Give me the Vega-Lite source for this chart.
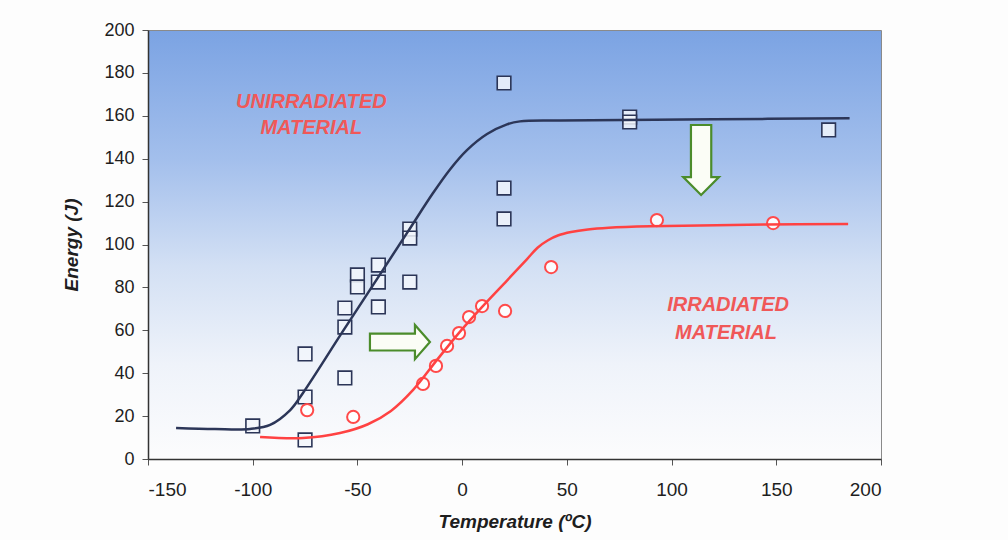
{
  "$schema": "https://vega.github.io/schema/vega-lite/v6.json",
  "autosize": {"type": "none"},
  "padding": {"left": 148, "top": 30, "right": 127, "bottom": 81},
  "width": 733,
  "height": 429,
  "background": "#fdfdfd",
  "config": {
    "view": {
      "fill": {"gradient": "linear", "x1": 0, "y1": 0, "x2": 0, "y2": 1,
        "stops": [
          {"offset": 0, "color": "#7ba3e3"},
          {"offset": 0.3, "color": "#a3bfec"},
          {"offset": 0.55, "color": "#d3e0f4"},
          {"offset": 0.78, "color": "#eff3fa"},
          {"offset": 1, "color": "#fcfcfd"}
        ]},
      "stroke": "#8a8a8a",
      "strokeWidth": 1
    },
    "axis": {
      "grid": false,
      "domainColor": "#333333",
      "domainWidth": 1.5,
      "tickColor": "#555555",
      "tickSize": 6,
      "labelFont": "Liberation Sans",
      "labelFontSize": 17,
      "labelColor": "#1e1e1e",
      "labelExpr": "replace(datum.label, '\u2212', '-')",
      "titleFont": "Liberation Sans",
      "titleFontSize": 19,
      "titleFontWeight": "bold",
      "titleFontStyle": "italic",
      "titleColor": "#1e1e1e"
    }
  },
  "datasets": {
    "unirr": [
      {"t": -100, "e": 15.4}, {"t": -75, "e": 49}, {"t": -75, "e": 28.9}, {"t": -75, "e": 8.9},
      {"t": -56, "e": 37.8}, {"t": -56, "e": 61.5}, {"t": -56, "e": 70.4},
      {"t": -50, "e": 85.8}, {"t": -50, "e": 80.2},
      {"t": -40, "e": 90.4}, {"t": -40, "e": 82.5}, {"t": -40, "e": 70.9},
      {"t": -25, "e": 107.2}, {"t": -25, "e": 103}, {"t": -25, "e": 82.5},
      {"t": 20, "e": 175.3}, {"t": 20, "e": 126.3}, {"t": 20, "e": 111.9},
      {"t": 80, "e": 159.4}, {"t": 80, "e": 157.1}, {"t": 175, "e": 153.4}
    ],
    "irr": [
      {"t": -74, "e": 22.8}, {"t": -52, "e": 19.6}, {"t": -18.7, "e": 35}, {"t": -12.5, "e": 43.4},
      {"t": -7.2, "e": 52.7}, {"t": -1.5, "e": 58.7}, {"t": 3.3, "e": 66.2}, {"t": 9.5, "e": 71.3},
      {"t": 20.5, "e": 69}, {"t": 42.5, "e": 89.5}, {"t": 93, "e": 111.4}, {"t": 148.5, "e": 110}
    ],
    "curveU": [
      {"t": -136.6, "e": 14.5}, {"t": -118, "e": 14.0}, {"t": -101.3, "e": 14.0}, {"t": -91.7, "e": 15.9}, {"t": -82.1, "e": 22.8},
      {"t": -76, "e": 30.8}, {"t": -57, "e": 59.5}, {"t": -40.6, "e": 84}, {"t": -26.3, "e": 105.4},
      {"t": -13.9, "e": 124}, {"t": -5.8, "e": 135}, {"t": 2.3, "e": 144}, {"t": 11.9, "e": 151.5},
      {"t": 21.4, "e": 156}, {"t": 27.6, "e": 157.4}, {"t": 46.8, "e": 157.8}, {"t": 120, "e": 158.4}, {"t": 185, "e": 158.8}
    ],
    "curveI": [
      {"t": -96.5, "e": 10.3}, {"t": -76, "e": 9.8}, {"t": -58.3, "e": 12.1}, {"t": -45, "e": 16.2},
      {"t": -34, "e": 22.4}, {"t": -23.4, "e": 32.2}, {"t": -12, "e": 46.2}, {"t": -1, "e": 59.4},
      {"t": 10, "e": 71.4}, {"t": 21.4, "e": 83.2}, {"t": 31, "e": 93.2}, {"t": 36, "e": 98.5},
      {"t": 41, "e": 102}, {"t": 46, "e": 104.3}, {"t": 52, "e": 105.8}, {"t": 60, "e": 107},
      {"t": 70, "e": 107.8}, {"t": 89.7, "e": 108.5}, {"t": 145.6, "e": 109.3}, {"t": 184.3, "e": 109.6}
    ],
    "arrowR": [{"t": -29.7, "e": 54.5}],
    "arrowD": [{"t": 114.1, "e": 139.4}],
    "labels": [
      {"t": -72, "e": 166.4, "txt": "UNIRRADIATED"},
      {"t": -72, "e": 154.3, "txt": "MATERIAL"},
      {"t": 127, "e": 71.8, "txt": "IRRADIATED"},
      {"t": 126, "e": 58.7, "txt": "MATERIAL"}
    ]
  },
  "encoding": {
    "x": {"field": "t", "type": "quantitative",
      "scale": {"domain": [-150, 200], "nice": false},
      "axis": {"values": [-150, -100, -50, 0, 50, 100, 150, 200], "title": "Temperature (ºC)",
        "labelFontSize": 19, "labelPadding": 15, "titlePadding": 13}},
    "y": {"field": "e", "type": "quantitative",
      "scale": {"domain": [0, 200], "nice": false},
      "axis": {"values": [0, 20, 40, 60, 80, 100, 120, 140, 160, 180, 200], "title": "Energy (J)",
        "labelFontSize": 18, "labelPadding": 8, "titlePadding": 22}}
  },
  "layer": [
    {"data": {"name": "unirr"},
     "mark": {"type": "point", "shape": "square", "size": 185, "filled": true, "fill": "#f2f6fc", "fillOpacity": 0.85, "stroke": "#2b3557", "strokeWidth": 1.6}},
    {"data": {"name": "irr"},
     "mark": {"type": "point", "shape": "circle", "size": 150, "filled": true, "fill": "#ffffff", "fillOpacity": 0.9, "stroke": "#ff4a4a", "strokeWidth": 2}},
    {"data": {"name": "curveU"},
     "mark": {"type": "line", "interpolate": "catmull-rom", "color": "#2c3658", "strokeWidth": 2.5}},
    {"data": {"name": "curveI"},
     "mark": {"type": "line", "interpolate": "catmull-rom", "color": "#ff4242", "strokeWidth": 2.5}},
    {"data": {"name": "arrowR"},
     "mark": {"type": "point", "shape": "M-1,-0.28L0.5,-0.28L0.5,-0.57L1,0L0.5,0.57L0.5,0.28L-1,0.28Z", "size": 3600, "filled": true, "fill": "#fbfdf6", "fillOpacity": 1, "stroke": "#4b8c2b", "strokeWidth": 2.2}},
    {"data": {"name": "arrowD"},
     "mark": {"type": "point", "shape": "M-0.29,-1L0.29,-1L0.29,0.49L0.51,0.49L0,1L-0.51,0.49L-0.29,0.49Z", "size": 4900, "filled": true, "fill": "#fbfdf6", "fillOpacity": 1, "stroke": "#4b8c2b", "strokeWidth": 2.2}},
    {"data": {"name": "labels"},
     "mark": {"type": "text", "font": "Liberation Sans", "fontSize": 20, "fontStyle": "italic", "fontWeight": "bold", "color": "#f05858", "align": "center", "baseline": "middle"},
     "encoding": {"text": {"field": "txt", "type": "nominal"}}}
  ]
}
